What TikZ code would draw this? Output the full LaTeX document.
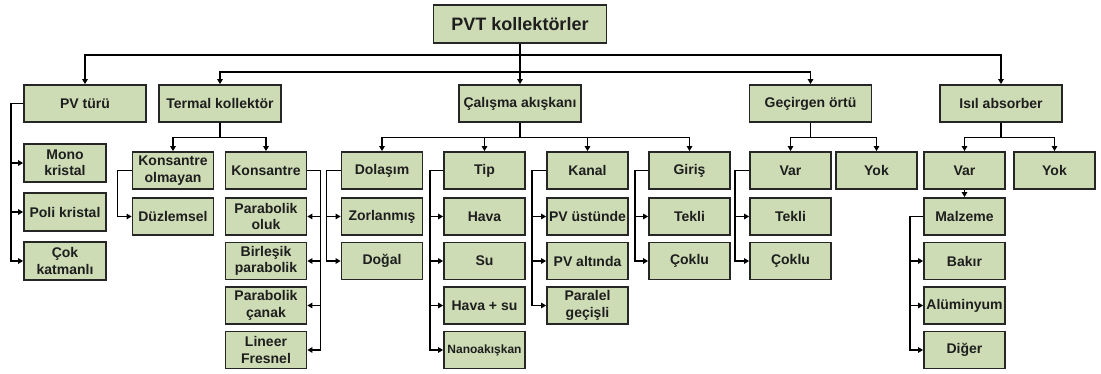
\documentclass[tikz,border=0pt]{standalone}
\usepackage{fontspec}
\setmainfont{Liberation Sans}
\usetikzlibrary{arrows.meta}
\definecolor{boxfill}{RGB}{205,220,180}
\definecolor{boxline}{RGB}{38,38,38}
\definecolor{txt}{RGB}{30,30,30}
\tikzset{
 box/.style={draw=boxline, fill=boxfill, line width=1.8pt, inner sep=1pt, align=center,
   font=\bfseries\fontsize{14}{16.5}\selectfont, text=txt},
 lone/.style={box, minimum width=122pt, minimum height=37pt},
 ltwo/.style={box, minimum width=81pt, minimum height=37pt},
 lpv/.style={box, minimum width=82pt, minimum height=38pt},
 arr/.style={line width=1.7pt, draw=black, -{Triangle[length=5pt,width=5.5pt]}},
}
\begin{document}
\begin{tikzpicture}[x=1pt,y=-1pt]
\useasboundingbox (0,0) rectangle (1101,374);
% root
\node[box, minimum width=173pt, minimum height=38pt, font=\bfseries\fontsize{18}{20}\selectfont] (pvt) at (520,24) {PVT kollektörler};
% level 1
\node[lone] (pv) at (85,103.5) {PV türü};
\node[lone] (term) at (220,103.5) {Termal kollektör};
\node[lone] (calis) at (520,103.5) {Çalışma akışkanı};
\node[lone] (gecir) at (810.5,103.5) {Geçirgen örtü};
\node[lone] (isil) at (1001,103.5) {Isıl absorber};
% PV children
\node[lpv] (mono) at (65,163) {Mono\\kristal};
\node[lpv] (poli) at (65,212) {Poli kristal};
\node[lpv] (cok) at (65,261) {Çok\\katmanlı};
% Termal
\node[ltwo] (konsol) at (173,170.5) {Konsantre\\olmayan};
\node[ltwo] (kons) at (266,170.5) {Konsantre};
\node[ltwo] (duz) at (173,216.5) {Düzlemsel};
\node[ltwo] (po) at (266,216.5) {Parabolik\\oluk};
\node[ltwo] (bp) at (266,261) {Birleşik\\parabolik};
\node[ltwo] (pc) at (266,305.5) {Parabolik\\çanak};
\node[ltwo] (lf) at (266,350) {Lineer\\Fresnel};
% Calisma
\node[ltwo] (dolas) at (382,170.5) {Dolaşım};
\node[ltwo] (zor) at (382,216.5) {Zorlanmış};
\node[ltwo] (dogal) at (382,261) {Doğal};
\node[ltwo] (tip) at (484.5,170.5) {Tip};
\node[ltwo] (hava) at (484.5,216.5) {Hava};
\node[ltwo] (su) at (484.5,261) {Su};
\node[ltwo] (havasu) at (484.5,305.5) {Hava + su};
\node[ltwo, font=\bfseries\fontsize{12}{13}\selectfont] (nano) at (484.5,350) {Nanoakışkan};
\node[ltwo] (kanal) at (587.5,170.5) {Kanal};
\node[ltwo] (pvu) at (587.5,216.5) {PV üstünde};
\node[ltwo] (pva) at (587.5,261) {PV altında};
\node[ltwo] (par) at (587.5,305.5) {Paralel\\geçişli};
\node[ltwo] (giris) at (689.5,170.5) {Giriş};
\node[ltwo] (tekA) at (689.5,216.5) {Tekli};
\node[ltwo] (cokA) at (689.5,261) {Çoklu};
% Gecirgen
\node[ltwo] (varA) at (790.5,170.5) {Var};
\node[ltwo] (yokA) at (876.5,170.5) {Yok};
\node[ltwo] (tekB) at (790.5,216.5) {Tekli};
\node[ltwo] (cokB) at (790.5,261) {Çoklu};
% Isil
\node[ltwo] (varB) at (964.5,170.5) {Var};
\node[ltwo] (yokB) at (1054.5,170.5) {Yok};
\node[ltwo] (malz) at (964.5,216.5) {Malzeme};
\node[ltwo] (bak) at (964.5,261) {Bakır};
\node[ltwo] (alu) at (964.5,305.5) {Alüminyum};
\node[ltwo] (dig) at (964.5,350) {Diğer};
% top connectors
\coordinate (ja) at (520,55);
\coordinate (jb) at (520,72);
\draw[arr] (pvt.south) -- (calis.north);
\draw[arr] (ja) -| (pv.north);
\draw[arr] (ja) -| (isil.north);
\draw[arr] (jb) -| (term.north);
\draw[arr] (jb) -| (gecir.north);
% branches down
\foreach \c in {konsol,kons} \draw[arr] (term.south) -- ++(0,14.5) -| (\c.north);
\foreach \c in {dolas,tip,kanal,giris} \draw[arr] (calis.south) -- ++(0,14.5) -| (\c.north);
\foreach \c in {varA,yokA} \draw[arr] (gecir.south) -- ++(0,14.5) -| (\c.north);
\foreach \c in {varB,yokB} \draw[arr] (isil.south) -- ++(0,14.5) -| (\c.north);
\draw[arr] (varB.south) -- (malz.north);
% side connectors
\foreach \c in {mono,poli,cok} \draw[arr] (pv.west) -- ++(-12,0) |- (\c.west);
\draw[arr] (konsol.west) -- ++(-14,0) |- (duz.west);
\foreach \c in {po,bp,pc,lf} \draw[arr] (kons.east) -- ++(13,0) |- (\c.east);
\foreach \c in {zor,dogal} \draw[arr] (dolas.west) -- ++(-14,0) |- (\c.west);
\foreach \c in {hava,su,havasu,nano} \draw[arr] (tip.west) -- ++(-13,0) |- (\c.west);
\foreach \c in {pvu,pva,par} \draw[arr] (kanal.west) -- ++(-14,0) |- (\c.west);
\foreach \c in {tekA,cokA} \draw[arr] (giris.west) -- ++(-13,0) |- (\c.west);
\foreach \c in {tekB,cokB} \draw[arr] (varA.west) -- ++(-14,0) |- (\c.west);
\foreach \c in {bak,alu,dig} \draw[arr] (malz.west) -- ++(-13,0) |- (\c.west);
\end{tikzpicture}
\end{document}
